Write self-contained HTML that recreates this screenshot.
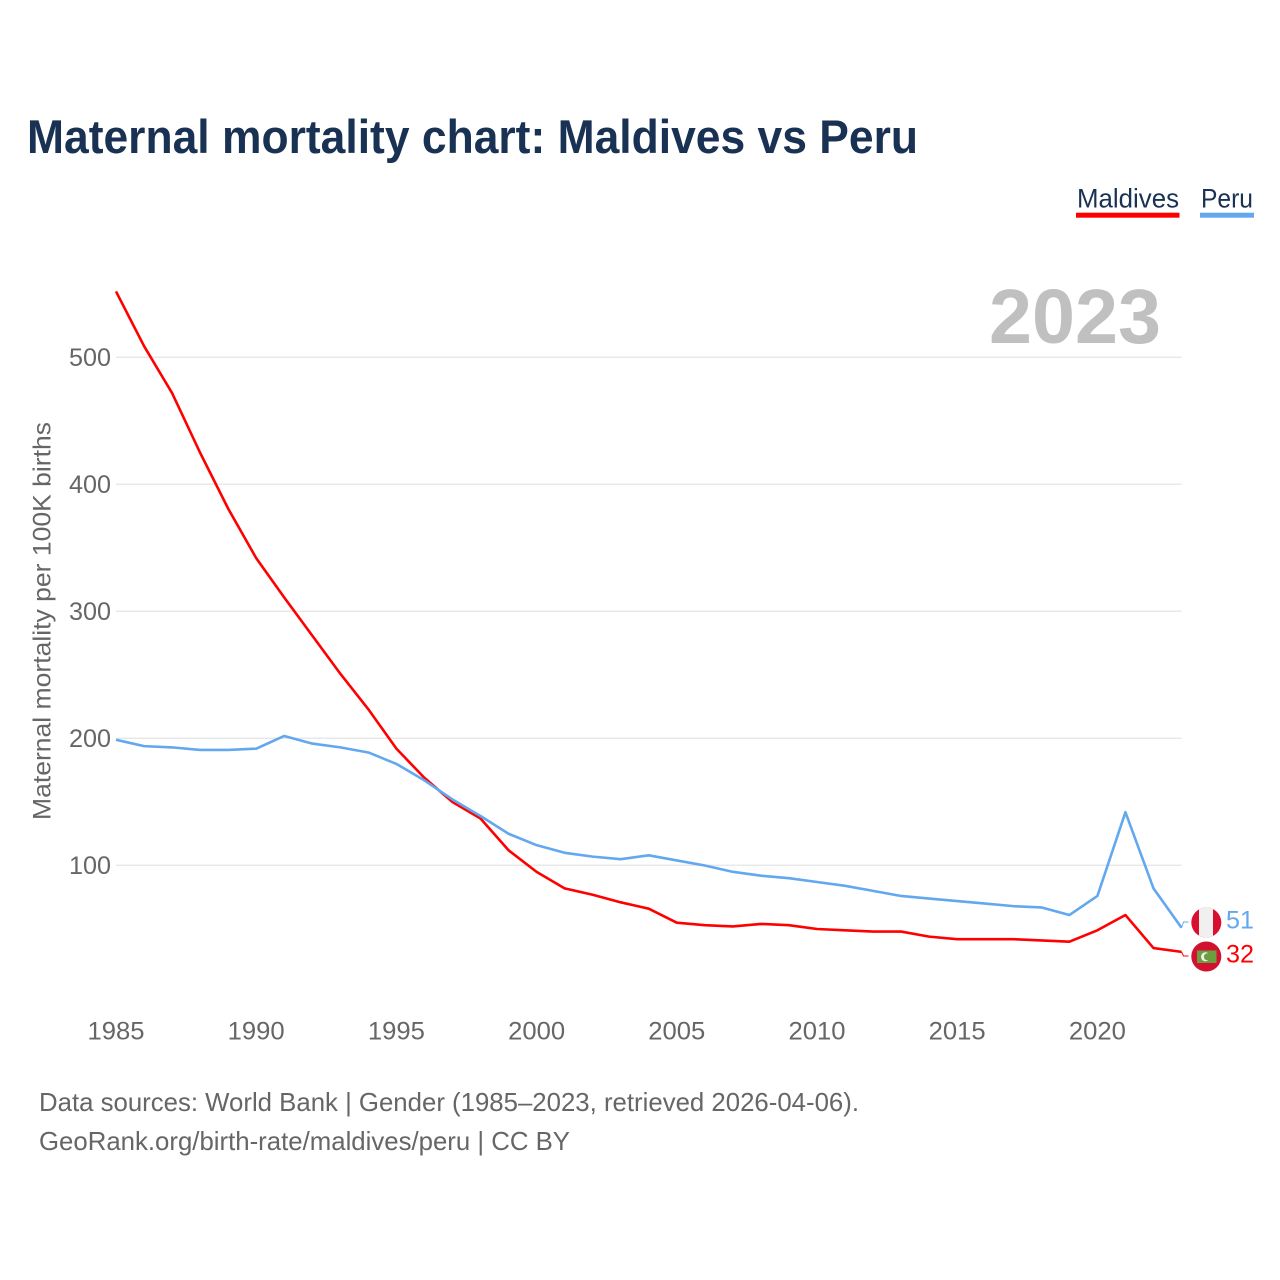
<!DOCTYPE html>
<html lang="en">
<head>
<meta charset="utf-8">
<title>Maternal mortality chart: Maldives vs Peru</title>
<style>
html,body{margin:0;padding:0;background:#fff;width:1280px;height:1280px;overflow:hidden}
svg{display:block}
text{font-family:"Liberation Sans",sans-serif}
</style>
</head>
<body>
<svg id="chart" xmlns="http://www.w3.org/2000/svg" width="1280" height="1280" viewBox="0 0 1280 1280">
  <text x="27" y="153" font-size="47" font-weight="700" fill="#193254" textLength="891" lengthAdjust="spacingAndGlyphs">Maternal mortality chart: Maldives vs Peru</text>

  <g>
    <g>
      <text x="1077" y="207.5" font-size="27" fill="#193254" textLength="102" lengthAdjust="spacingAndGlyphs">Maldives</text>
      <rect x="1076" y="212.7" width="103.5" height="5" fill="#ff0000"/>
    </g>
    <g>
      <text x="1201" y="207.5" font-size="27" fill="#193254" textLength="52" lengthAdjust="spacingAndGlyphs">Peru</text>
      <rect x="1200" y="212.7" width="54" height="5" fill="#63a8ee"/>
    </g>
  </g>

  <text x="989" y="343" font-size="77" font-weight="700" fill="#c0c0c0" textLength="172" lengthAdjust="spacingAndGlyphs">2023</text>

  <g id="grid"></g>
  <g id="yticks"></g>
  <g id="xticks"></g>
  <text transform="translate(50.5,621) rotate(-90)" text-anchor="middle" font-size="25" fill="#666666" textLength="398" lengthAdjust="spacingAndGlyphs">Maternal mortality per 100K births</text>

  <g id="series"></g>

  <defs>
    <clipPath id="peru-clip"><circle cx="1206.3" cy="922.5" r="15"/></clipPath>
    <clipPath id="maldives-clip"><circle cx="1206.3" cy="956.5" r="15"/></clipPath>
  </defs>

  <g clip-path="url(#peru-clip)">
    <rect x="1191" y="907" width="31" height="31" fill="#d90f30"/>
    <rect x="1199" y="907" width="14" height="31" fill="#f0f0f0"/>
  </g>
  <g clip-path="url(#maldives-clip)">
    <rect x="1191" y="941" width="31" height="31" fill="#d2102f"/>
    <rect x="1197" y="950.5" width="19.5" height="12.5" fill="#6a9e3f"/>
    <circle cx="1205.5" cy="956.8" r="4.5" fill="#f0f0f0"/>
    <circle cx="1207.5" cy="956.8" r="3.6" fill="#6a9e3f"/>
  </g>

  <text x="1226" y="928.5" font-size="25" fill="#63a8ee" textLength="28" lengthAdjust="spacingAndGlyphs">51</text>
  <text x="1226" y="962.5" font-size="25" fill="#ff0000" textLength="28" lengthAdjust="spacingAndGlyphs">32</text>

  <g>
    <text x="39" y="1111" font-size="26" fill="#666666" textLength="820" lengthAdjust="spacingAndGlyphs">Data sources: World Bank | Gender (1985–2023, retrieved 2026-04-06).</text>
    <text x="39" y="1150" font-size="26" fill="#666666" textLength="531" lengthAdjust="spacingAndGlyphs">GeoRank.org/birth-rate/maldives/peru | CC BY</text>
  </g>
</svg>

<script>
const years = [1985,1986,1987,1988,1989,1990,1991,1992,1993,1994,1995,1996,1997,1998,1999,2000,2001,2002,2003,2004,2005,2006,2007,2008,2009,2010,2011,2012,2013,2014,2015,2016,2017,2018,2019,2020,2021,2022,2023];
const maldivesValues = [552,509,472,425,381,342,311,281,251,223,192,169,150,137,112,95,82,77,71,66,55,53,52,54,53,50,49,48,48,44,42,42,42,41,40,49,61,35,32];
const peruValues = [199,194,193,191,191,192,202,196,193,189,180,167,152,139,125,116,110,107,105,108,104,100,95,92,90,87,84,80,76,74,72,70,68,67,61,76,142,82,51];
const yTickValues = [100,200,300,400,500];
const xTickValues = [1985,1990,1995,2000,2005,2010,2015,2020];

const NS = 'http://www.w3.org/2000/svg';
function xScale(year){ return 116 + (year - 1985) * 28.04; }
function yScale(value){ return 992.5 - value * 1.27; }
const plotRight = xScale(2023);

const gridGroup = document.getElementById('grid');
const yTickGroup = document.getElementById('yticks');
const xTickGroup = document.getElementById('xticks');
const seriesGroup = document.getElementById('series');

yTickValues.forEach(function(v){
  const line = document.createElementNS(NS,'line');
  
  
  line.setAttribute('x1', 116);
  line.setAttribute('x2', plotRight);
  line.setAttribute('y1', yScale(v) - 0.2);
  line.setAttribute('y2', yScale(v) - 0.2);
  line.setAttribute('stroke', '#e8e8e8');
  line.setAttribute('stroke-width', '1.5');
  gridGroup.appendChild(line);

  const label = document.createElementNS(NS,'text');
  
  
  label.setAttribute('x', 69);
  label.setAttribute('y', yScale(v) + 8.5);
  label.setAttribute('font-size', '25');
  label.setAttribute('fill', '#666666');
  label.setAttribute('textLength', '42');
  label.setAttribute('lengthAdjust', 'spacingAndGlyphs');
  label.textContent = String(v);
  yTickGroup.appendChild(label);
});

xTickValues.forEach(function(y){
  const label = document.createElementNS(NS,'text');
  
  
  label.setAttribute('x', xScale(y) - 28.5);
  label.setAttribute('y', 1039.5);
  label.setAttribute('font-size', '25');
  label.setAttribute('fill', '#666666');
  label.setAttribute('textLength', '57');
  label.setAttribute('lengthAdjust', 'spacingAndGlyphs');
  label.textContent = String(y);
  xTickGroup.appendChild(label);
});

function buildPoints(values){
  return values.map(function(v,i){
    return xScale(years[i]).toFixed(2) + ',' + yScale(v).toFixed(2);
  }).join(' ');
}

function drawLeader(values, flagY){
  const last = values[values.length - 1];
  const x0 = xScale(years[years.length - 1]);
  return x0.toFixed(2) + ',' + yScale(last).toFixed(2) + ' ' + (x0 + 2).toFixed(2) + ',' + flagY + ' ' + (x0 + 7).toFixed(2) + ',' + flagY;
}

const maldivesLine = document.createElementNS(NS,'polyline');


maldivesLine.setAttribute('points', buildPoints(maldivesValues));
maldivesLine.setAttribute('fill', 'none');
maldivesLine.setAttribute('stroke', '#ff0000');
maldivesLine.setAttribute('stroke-width', '2.6');
maldivesLine.setAttribute('stroke-linejoin', 'round');
seriesGroup.appendChild(maldivesLine);

const peruLine = document.createElementNS(NS,'polyline');


peruLine.setAttribute('points', buildPoints(peruValues));
peruLine.setAttribute('fill', 'none');
peruLine.setAttribute('stroke', '#63a8ee');
peruLine.setAttribute('stroke-width', '2.6');
peruLine.setAttribute('stroke-linejoin', 'round');
seriesGroup.appendChild(peruLine);

const maldivesLeader = document.createElementNS(NS,'polyline');


maldivesLeader.setAttribute('points', drawLeader(maldivesValues, 956));
maldivesLeader.setAttribute('fill', 'none');
maldivesLeader.setAttribute('stroke', '#ff0000');
maldivesLeader.setAttribute('stroke-width', '1');
seriesGroup.appendChild(maldivesLeader);

const peruLeader = document.createElementNS(NS,'polyline');


peruLeader.setAttribute('points', drawLeader(peruValues, 922));
peruLeader.setAttribute('fill', 'none');
peruLeader.setAttribute('stroke', '#63a8ee');
peruLeader.setAttribute('stroke-width', '1');
seriesGroup.appendChild(peruLeader);
</script>
</body>
</html>
